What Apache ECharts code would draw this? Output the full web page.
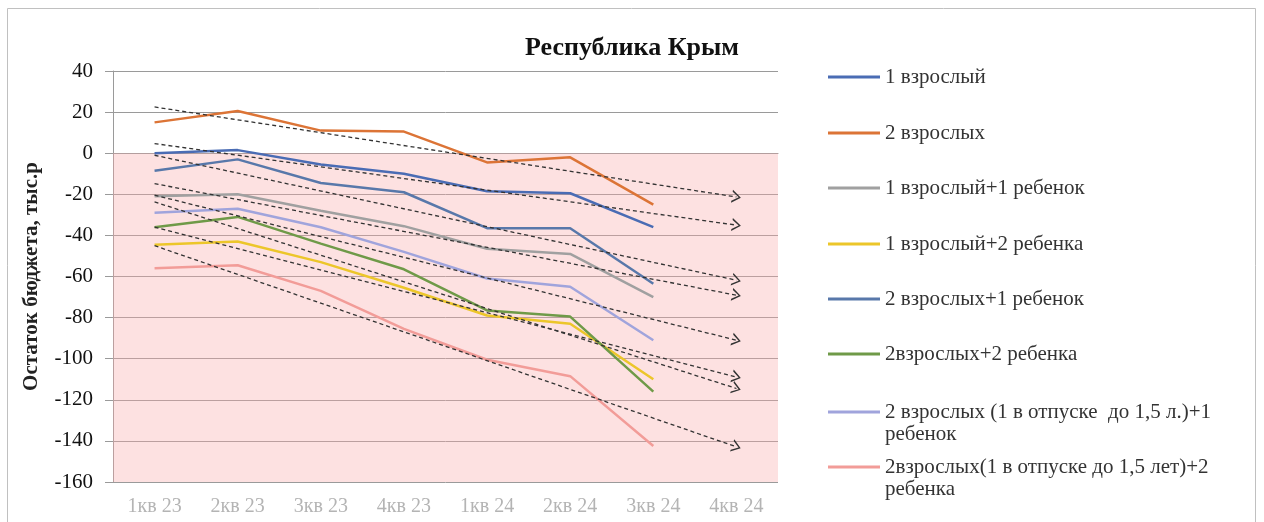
<!DOCTYPE html>
<html lang="ru">
<head>
    <meta charset="UTF-8">
    <title>Республика Крым</title>
    <script src="https://cdn.jsdelivr.net/npm/echarts@6/dist/echarts.min.js"></script>
    <style>
        html, body { margin: 0; padding: 0; background: #fff; }
        #main { width: 1264px; height: 522px; }
    </style>
</head>
<body>
<div id="main"></div>
<script>
    // кварталы
    const categories = ['1кв 23', '2кв 23', '3кв 23', '4кв 23', '1кв 24', '2кв 24', '3кв 24', '4кв 24'];
    const yTicks = [40, 20, 0, -20, -40, -60, -80, -100, -120, -140, -160];

    // остаток бюджета, тыс.р
    const names = [
        '1 взрослый',
        '2 взрослых',
        '1 взрослый+1 ребенок',
        '1 взрослый+2 ребенка',
        '2 взрослых+1 ребенок',
        '2взрослых+2 ребенка',
        '2 взрослых (1 в отпуске  до 1,5 л.)+1\nребенок',
        '2взрослых(1 в отпуске до 1,5 лет)+2\nребенка'
    ];
    const adult1 = [0, 1.5, -5.5, -10, -18.5, -19.5, -36];
    const adult2 = [15, 20.5, 11, 10.5, -4.5, -2, -25];
    const adult1child1 = [-21, -20, -28, -35.5, -46.5, -49, -70];
    const adult1child2 = [-44.5, -43, -53, -65.5, -79, -83, -110];
    const adult2child1 = [-8.5, -3, -14.5, -19, -36.5, -36.5, -63.5];
    const adult2child2 = [-36, -31, -44, -56.5, -76.5, -79.5, -116];
    const leaveChild1 = [-29, -27, -36, -48, -61, -65, -91];
    const leaveChild2 = [-56, -54.5, -67, -85.5, -100.5, -108.5, -142.5];

    // линии тренда (начало в 1кв 23, конец в 4кв 24)
    const trendStart = [4.7, 22.5, -14.8, -36, -1, -23.7, -20.4, -45];
    const trendEnd = [-35, -21.3, -69.1, -108.9, -61.8, -114.5, -91, -142.9];

    const values = [adult1, adult2, adult1child1, adult1child2, adult2child1, adult2child2, leaveChild1, leaveChild2];
    const colors = ['#4a6cb4', '#dc7436', '#a0a0a0', '#ecc62a', '#5878aa', '#6f9a48', '#a0a4dc', '#f29c98'];

    const font = '"Liberation Serif", "Times New Roman", serif';
    // галочка-стрелка на конце тренда
    const chevron = 'path://M0,20 L10,0 L20,20 L17,20 L10,5 L3,20 Z';

    const series = values.map(function (v, i) {
        const s = {
            name: names[i],
            type: 'line',
            data: v,
            showSymbol: false,
            symbol: 'none',
            lineStyle: { width: 2.5, color: colors[i] },
            itemStyle: { color: colors[i] },
            z: 3,
            markLine: {
                silent: true,
                symbol: ['none', chevron],
                symbolSize: [13, 9],
                label: { show: false },
                itemStyle: { color: '#333' },
                lineStyle: { color: '#333', type: [4, 3], width: 1.3 },
                data: [[
                    { coord: [categories[0], trendStart[i]] },
                    { coord: [categories[7], trendEnd[i]] }
                ]]
            }
        };
        if (i === 0) {
            s.markArea = {
                silent: true,
                itemStyle: { color: 'rgba(248, 170, 170, 0.35)' },
                data: [[{ yAxis: 0 }, { yAxis: -160 }]]
            };
        }
        return s;
    });

    // легенда справа, по одному блоку на пункт
    const legendY = [76, 132, 187, 243, 298, 353, 411, 466];
    const legends = names.map(function (n, i) {
        const multi = n.indexOf('\n') >= 0;
        return {
            orient: 'vertical',
            left: 828,
            top: multi ? legendY[i] - 32 : legendY[i] - 10,
            padding: 0,
            icon: 'rect',
            itemWidth: 52,
            itemHeight: 3,
            selectedMode: false,
            // пустая первая строка, чтобы значок стоял у первой строки подписи
            formatter: function (name) { return multi ? '\n' + name : name; },
            textStyle: { fontFamily: font, fontSize: 21, color: '#333', lineHeight: 22 },
            data: [n]
        };
    });

    const chart = echarts.init(document.getElementById('main'));
    chart.setOption({
        animation: false,
        backgroundColor: '#fff',
        color: colors,
        title: {
            text: 'Республика Крым',
            left: 'center',
            top: 30,
            textStyle: { fontFamily: font, fontSize: 26, fontWeight: 'bold', color: '#111' }
        },
        graphic: [{
            type: 'rect',
            shape: { x: 7.5, y: 8.5, width: 1248, height: 530 },
            style: { fill: 'none', stroke: '#c0c0c0', lineWidth: 1 },
            silent: true
        }],
        legend: legends,
        grid: { left: 113, top: 71, right: 486, bottom: 40 },
        xAxis: [{
            type: 'category',
            data: categories,
            position: 'bottom',
            axisLine: { show: false, onZero: false },
            axisTick: { show: false },
            axisLabel: { fontFamily: font, fontSize: 20, color: '#b4b4b4', margin: 15 }
        }, {
            type: 'category',
            data: categories,
            axisLine: { onZero: true, lineStyle: { color: '#9a9a9a' } },
            axisTick: { inside: true, length: 5, lineStyle: { color: '#9a9a9a' } },
            axisLabel: { show: false }
        }],
        yAxis: {
            type: 'value',
            min: yTicks[yTicks.length - 1],
            max: yTicks[0],
            interval: 20,
            name: 'Остаток бюджета, тыс.р',
            nameLocation: 'middle',
            nameGap: 71,
            nameTextStyle: { fontFamily: font, fontSize: 21, fontWeight: 'bold', color: '#222' },
            axisLine: { show: true, lineStyle: { color: '#9a9a9a' } },
            axisTick: { show: true, length: 8, lineStyle: { color: '#9a9a9a' } },
            axisLabel: { fontFamily: font, fontSize: 21, color: '#111', margin: 20 },
            splitLine: { lineStyle: { color: '#9a9a9a', width: 1 } }
        },
        series: series
    });
</script>
</body>
</html>
